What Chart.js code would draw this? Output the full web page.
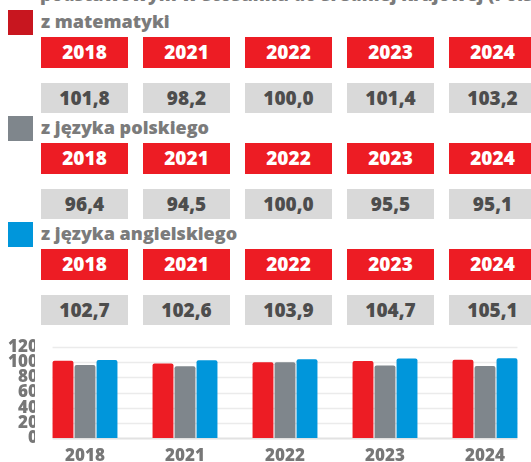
<!DOCTYPE html>
<html lang="pl">
<head>
<meta charset="utf-8">
<script src="https://cdn.jsdelivr.net/npm/chart.js@4/dist/chart.umd.min.js"></script>
<style>
  html, body { margin: 0; padding: 0; background: #fff; }
  body { width: 531px; height: 462px; overflow: hidden; position: relative; font-family: "Open Sans", sans-serif; font-weight: 800; }
  .title { position: absolute; left: 40px; top: -15px; font-size: 18px; line-height: 18px; color: #7b7b7b; white-space: nowrap; }
  .square { position: absolute; left: 8px; width: 25px; height: 25px; }
  .label { position: absolute; left: 41px; font-size: 18px; line-height: 25px; color: #7b7b7b; white-space: nowrap; }
  .box { position: absolute; width: 87px; text-align: center; font-size: 19px; }
  .year { height: 31px; line-height: 31px; background: #ed1c24; color: #fff; }
  .value { height: 30px; line-height: 30px; background: #d9d9d9; color: #4d4d4d; }
  #chartWrap { position: absolute; left: 0; top: 330px; }
</style>
</head>
<body>
<div class="title">podstawowym w stosunku do średniej krajowej (Polska = 100)</div>
<div id="table"></div>
<div id="chartWrap"><canvas id="resultsChart" width="540" height="140"></canvas></div>

<script>
// data
const years = ['2018', '2021', '2022', '2023', '2024'];
const subjects = ['z matematyki', 'z języka polskiego', 'z języka angielskiego'];
const mathValues = [101.8, 98.2, 100.0, 101.4, 103.2];
const polishValues = [96.4, 94.5, 100.0, 95.5, 95.1];
const englishValues = [102.7, 102.6, 103.9, 104.7, 105.1];
const yTicks = [0, 20, 40, 60, 80, 100, 120];

const barColors = ['#ed1c24', '#7f868c', '#0096db'];
const squareColors = ['#c8161f', '#7f868c', '#0096db'];

function fmt(v) {
    return v.toFixed(1).replace('.', ',');
}

/*
 * Table part: legend square + subject name, a row of years
 * and a row of values for each subject
 */
function buildTable() {
    const table = document.getElementById('table');
    const allValues = [mathValues, polishValues, englishValues];
    let html = '';

    subjects.forEach(function(name, i) {
        const top = 10 + 106 * i;
        html += '<div class="square" style="top:' + top + 'px;background:' + squareColors[i] + '"></div>';
        html += '<div class="label" style="top:' + (top - 1) + 'px">' + name + '</div>';
        years.forEach(function(year, j) {
            const left = 41 + 102 * j;
            html += '<div class="box year" style="left:' + left + 'px;top:' + (top + 27) + 'px">' + year + '</div>';
            html += '<div class="box value" style="left:' + left + 'px;top:' + (top + 73) + 'px">' + fmt(allValues[i][j]) + '</div>';
        });
    });

    table.innerHTML = html;
}

// gridlines only between the first and the last bar
const barGrid = {
    id: 'barGrid',
    beforeDatasetsDraw(chart) {
        const ctx = chart.ctx;
        const y = chart.scales.y;
        const first = chart.getDatasetMeta(0).data[0];
        const lastMeta = chart.getDatasetMeta(chart.data.datasets.length - 1);
        const last = lastMeta.data[lastMeta.data.length - 1];
        const x0 = first.x - first.width / 2;
        const x1 = last.x + last.width / 2;

        ctx.save();
        yTicks.forEach(function(t) {
            const py = Math.round(y.getPixelForValue(t)) + 0.5;
            ctx.strokeStyle = t === 0 ? '#e2e2e2' : '#ebebeb';
            ctx.lineWidth = t === 0 ? 2 : 1.5;
            ctx.beginPath();
            ctx.moveTo(x0, py);
            ctx.lineTo(x1, py);
            ctx.stroke();
        });
        ctx.restore();
    }
};

function buildChart() {
    const ctx = document.getElementById('resultsChart').getContext('2d');
    const series = [mathValues, polishValues, englishValues];

    new Chart(ctx, {
        type: 'bar',
        data: {
            labels: years,
            datasets: series.map(function(values, i) {
                return {
                    label: subjects[i],
                    data: values,
                    backgroundColor: barColors[i],
                    borderRadius: 2,
                    borderSkipped: 'bottom',
                    categoryPercentage: 0.66,
                    barPercentage: 0.95
                };
            })
        },
        options: {
            responsive: false,
            animation: false,
            layout: { padding: { left: 0, right: 5, top: 17, bottom: 7 } },
            plugins: {
                legend: { display: false },
                tooltip: { enabled: false }
            },
            scales: {
                x: {
                    afterFit: function(scale) { scale.height = 25; },
                    grid: { display: false, drawTicks: false },
                    border: { display: false },
                    ticks: {
                        padding: 10,
                        color: '#777',
                        font: { family: 'Open Sans', weight: '800', size: 17, lineHeight: 1 }
                    }
                },
                y: {
                    min: 0,
                    max: 120,
                    afterFit: function(scale) { scale.width = 35; },
                    afterBuildTicks: function(scale) {
                        scale.ticks = yTicks.map(function(v) { return { value: v }; });
                    },
                    grid: { display: false, drawTicks: false },
                    border: { display: false },
                    ticks: {
                        autoSkip: false,
                        padding: -3,
                        color: '#777',
                        font: { family: 'Open Sans', weight: '800', size: 17, lineHeight: 1 }
                    }
                }
            }
        },
        plugins: [barGrid]
    });
}

buildTable();
buildChart();
</script>
</body>
</html>
